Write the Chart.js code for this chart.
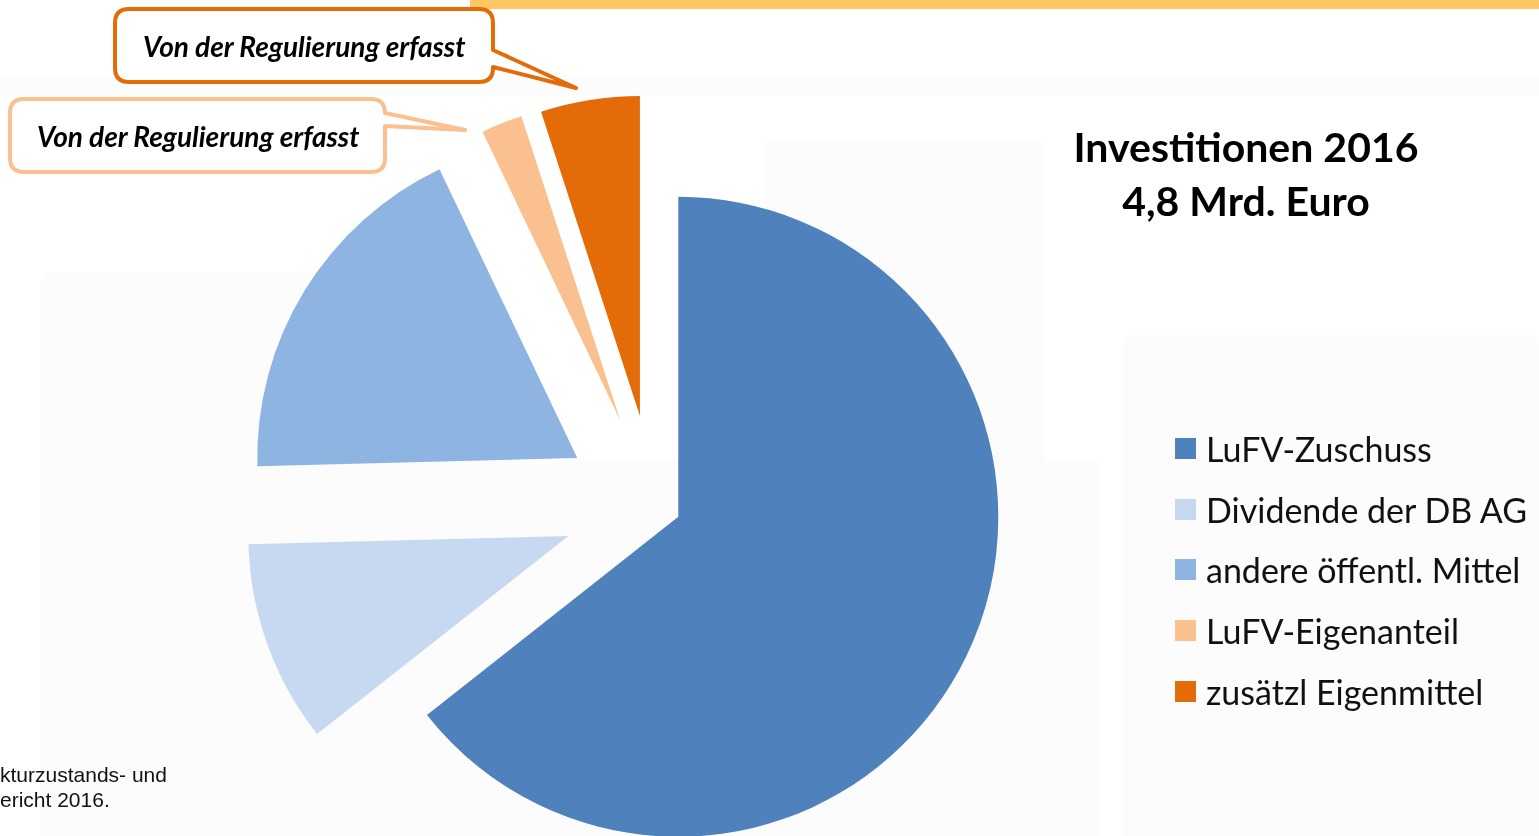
<!DOCTYPE html>
<html lang="de">
<head>
<meta charset="utf-8">
<title>Investitionen 2016</title>
<script src="https://cdn.jsdelivr.net/npm/chart.js@4.4.8/dist/chart.umd.min.js"></script>
<style>
  html, body {
    margin: 0;
    padding: 0;
    background: #ffffff;
    overflow: hidden;
  }
  #stage {
    position: relative;
    width: 1539px;
    height: 836px;
    overflow: hidden;
    font-family: Lato, "Open Sans", sans-serif;
  }
  .panel {
    position: absolute;
    background: #fcfcfc;
    border-radius: 10px;
  }
  .topbar {
    position: absolute;
    left: 470px;
    top: 0;
    width: 1069px;
    height: 9px;
    background: #ffc864;
  }
  #investChart {
    position: absolute;
    left: 0;
    top: 0;
  }
  #callouts {
    position: absolute;
    left: 0;
    top: 0;
  }
  .callout-text {
    position: absolute;
    font-weight: 700;
    font-style: italic;
    font-size: 28px;
    color: #000;
    white-space: nowrap;
    line-height: 1;
  }
  .title {
    position: absolute;
    left: 1046px;
    top: 120px;
    width: 400px;
    text-align: center;
    font-weight: 700;
    font-size: 41px;
    line-height: 54px;
    color: #000;
  }
  #legend {
    position: absolute;
    left: 1175px;
    top: 418px;
    margin: 0;
    padding: 0;
    list-style: none;
  }
  #legend li {
    height: 60.75px;
    display: flex;
    align-items: center;
    font-size: 34px;
    color: #111;
    white-space: nowrap;
  }
  #legend .swatch {
    width: 21px;
    height: 21px;
    margin-right: 10px;
    flex: none;
  }
  .source {
    position: absolute;
    left: 0;
    top: 762px;
    font-family: "Liberation Sans", Arial, sans-serif;
    font-size: 21px;
    line-height: 25px;
    color: #111;
    white-space: nowrap;
  }
</style>
</head>
<body>
<div id="stage">
  <div class="panel" style="left:0;top:75px;width:1539px;height:20px;border-radius:0"></div>
  <div class="panel" style="left:40px;top:272px;width:380px;height:600px"></div>
  <div class="panel" style="left:400px;top:460px;width:700px;height:400px;border-radius:0"></div>
  <div class="panel" style="left:764px;top:140px;width:280px;height:700px"></div>
  <div class="panel" style="left:1122px;top:335px;width:417px;height:520px"></div>
  <div class="topbar"></div>

  <canvas id="investChart" width="1539" height="836"></canvas>

  <svg id="callouts" width="1539" height="836">
    <path d="M129 9 H479 Q493 9 493 23 V50 L576 88 L493 67 V68 Q493 82 479 82 H129 Q115 82 115 68 V23 Q115 9 129 9 Z"
          fill="#ffffff" stroke="#e36c09" stroke-width="4" stroke-linejoin="round"/>
    <path d="M24 99 H371 Q385 99 385 113 V113 L465 130 L385 126 V158 Q385 172 371 172 H24 Q10 172 10 158 V113 Q10 99 24 99 Z"
          fill="#ffffff" stroke="#fac090" stroke-width="4" stroke-linejoin="round"/>
  </svg>
  <div class="callout-text" style="left:143px;top:32px">Von der Regulierung erfasst</div>
  <div class="callout-text" style="left:37px;top:122px">Von der Regulierung erfasst</div>

  <div class="title">Investitionen 2016<br>4,8 Mrd. Euro</div>

  <ul id="legend"></ul>

  <div class="source">kturzustands- und<br>ericht 2016.</div>
</div>

<script>
// Investitionen 2016 in Mrd. Euro, total 4,8
const categories = [
  "LuFV-Zuschuss",
  "Dividende der DB AG",
  "andere öffentl. Mittel",
  "LuFV-Eigenanteil",
  "zusätzl Eigenmittel"
];
const amounts = [3.09, 0.49, 0.88, 0.10, 0.24];
const sliceColors = ["#4f81bd", "#c6d9f0", "#8eb4e2", "#fac090", "#e36c09"];
// how far each slice is pulled out from the centre, px
const explode = [27, 91, 90, 91, 90];

function buildLegend() {
  const list = document.getElementById("legend");
  categories.forEach((name, i) => {
    const li = document.createElement("li");
    const box = document.createElement("span");
    box.className = "swatch";
    box.style.background = sliceColors[i];
    li.appendChild(box);
    li.appendChild(document.createTextNode(name));
    list.appendChild(li);
  });
}

// moves every arc outward along its own mid angle
const explodePlugin = {
  id: "explodeSlices",
  afterDatasetsUpdate(chart) {
    const meta = chart.getDatasetMeta(0);
    meta.data.forEach((arc, i) => {
      const mid = (arc.startAngle + arc.endAngle) / 2;
      const d = explode[i] || 0;
      arc.x += Math.cos(mid) * d;
      arc.y += Math.sin(mid) * d;
    });
  }
};

function createChart() {
  const canvas = document.getElementById("investChart");
  return new Chart(canvas, {
    type: "pie",
    data: {
      labels: categories,
      datasets: [
        {
          data: amounts,
          backgroundColor: sliceColors,
          borderWidth: 0
        }
      ]
    },
    options: {
      responsive: false,
      animation: false,
      events: [],
      radius: 320,
      layout: {
        padding: { left: 0, right: 231, top: 174, bottom: 0 }
      },
      plugins: {
        legend: { display: false },
        tooltip: { enabled: false },
        title: { display: false }
      }
    },
    plugins: [explodePlugin]
  });
}

buildLegend();
createChart();
</script>
</body>
</html>
